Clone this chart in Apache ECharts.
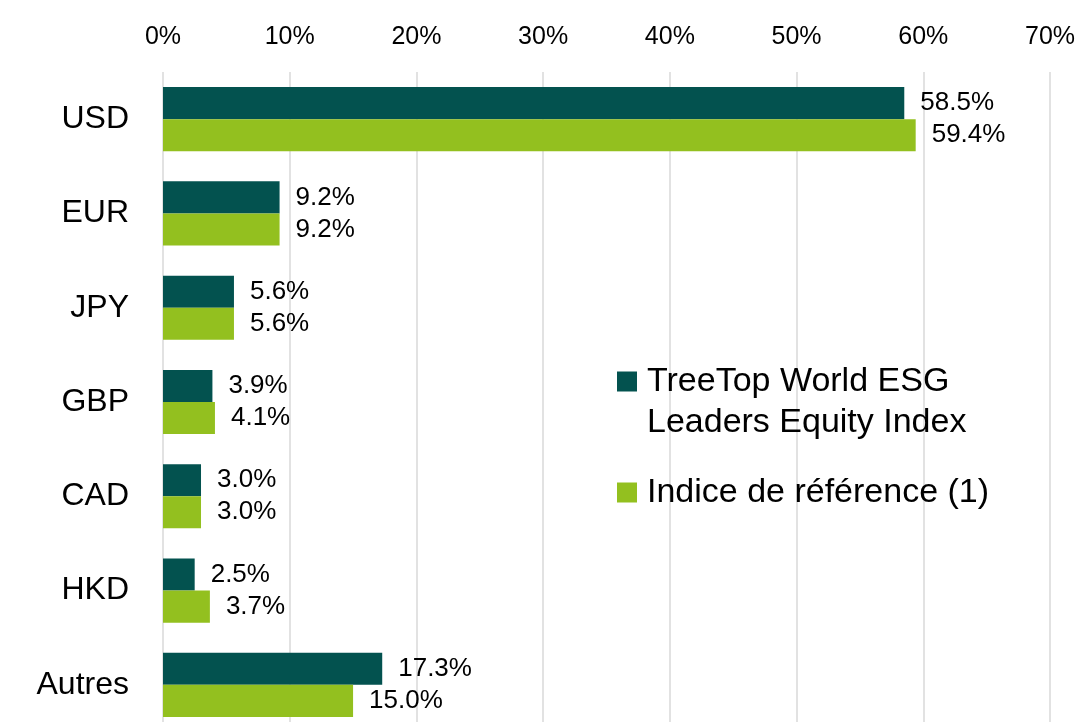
<!DOCTYPE html>
<html>
<head>
<meta charset="utf-8">
<script src="https://cdn.jsdelivr.net/npm/echarts@6/dist/echarts.min.js"></script>
<style>
html,body{margin:0;padding:0;background:#fff;overflow:hidden;}
#chart{width:1085px;height:732px;}
</style>
</head>
<body>
<div id="chart"></div>
<script>
const categories = ['USD', 'EUR', 'JPY', 'GBP', 'CAD', 'HKD', 'Autres'];
const fundValues = [58.5, 9.2, 5.6, 3.9, 3.0, 2.5, 17.3];
const benchmarkValues = [59.4, 9.2, 5.6, 4.1, 3.0, 3.7, 15.0];
const seriesNames = ['TreeTop World ESG Leaders Equity Index', 'Indice de référence (1)'];
const legendLines = {
  'TreeTop World ESG Leaders Equity Index': ['TreeTop World ESG', 'Leaders Equity Index'],
  'Indice de référence (1)': ['Indice de référence (1)']
};
const xTicks = { min: 0, max: 70, interval: 10 };

const FONT = '"Liberation Sans", Arial, sans-serif';
const chart = echarts.init(document.getElementById('chart'));

const labelCfg = {
  show: true,
  position: 'right',
  distance: 16,
  color: '#000',
  fontFamily: FONT,
  fontSize: 26,
  formatter: p => p.value.toFixed(1) + '%'
};

chart.setOption({
  animation: false,
  backgroundColor: '#fff',
  grid: { left: 163, right: 35, top: 72, bottom: 0, containLabel: false },
  xAxis: {
    type: 'value',
    position: 'top',
    min: xTicks.min,
    max: xTicks.max,
    interval: xTicks.interval,
    axisLine: { show: false },
    axisTick: { show: false },
    axisLabel: {
      formatter: '{value}%',
      color: '#000',
      fontFamily: FONT,
      fontSize: 25,
      margin: 22
    },
    splitLine: { show: true, lineStyle: { color: '#d9d9d9', width: 1.5 } }
  },
  yAxis: {
    type: 'category',
    data: categories,
    inverse: true,
    axisLine: { show: false },
    axisTick: { show: false },
    axisLabel: {
      color: '#000',
      fontFamily: FONT,
      fontSize: 32,
      margin: 34
    }
  },
  legend: {
    orient: 'vertical',
    left: 617,
    top: 320,
    padding: 0,
    itemWidth: 20,
    itemHeight: 20,
    itemGap: 29,
    icon: 'rect',
    formatter: name => {
      const lines = legendLines[name];
      const body = lines.map(l => '{t|' + l + '}').join('\n');
      return lines.length > 1 ? '{t|}\n' + body : body;
    },
    textStyle: {
      color: '#000', fontFamily: FONT, fontSize: 34, lineHeight: 41,
      rich: { t: { color: '#000', fontFamily: FONT, fontSize: 34, lineHeight: 41, padding: [0, 0, 0, 5] } }
    },
    data: seriesNames
  },
  series: [
    {
      name: seriesNames[0],
      type: 'bar',
      data: fundValues,
      barGap: '0%',
      barCategoryGap: '32%',
      itemStyle: { color: '#03524F' },
      label: labelCfg
    },
    {
      name: seriesNames[1],
      type: 'bar',
      data: benchmarkValues,
      itemStyle: { color: '#93C01F' },
      label: labelCfg
    }
  ]
});
</script>
</body>
</html>
